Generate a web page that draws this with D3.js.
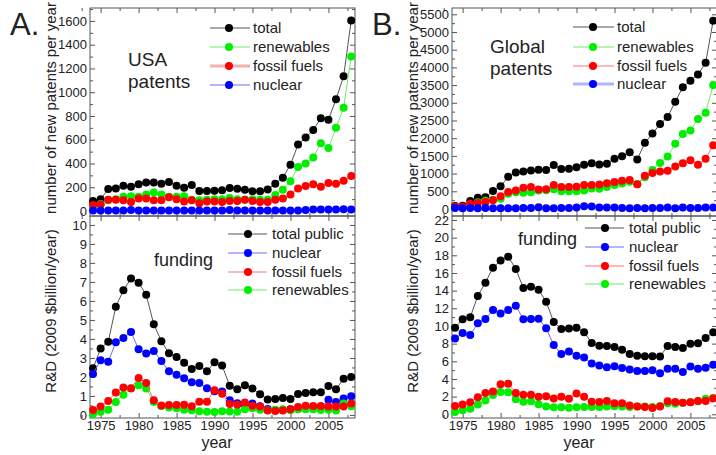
<!DOCTYPE html>
<html>
<head>
<meta charset="utf-8">
<script src="https://cdn.jsdelivr.net/npm/d3@7"></script>
<style>
  body { margin: 0; background: #fff; }
  text { font-family: "Liberation Sans", Arial, sans-serif; }
</style>
</head>
<body>
<svg id="chart" width="716" height="455"></svg>
<script>
const years = [1974, 1975, 1976, 1977, 1978, 1979, 1980, 1981, 1982, 1983, 1984, 1985,
  1986, 1987, 1988, 1989, 1990, 1991, 1992, 1993, 1994, 1995, 1996, 1997, 1998, 1999,
  2000, 2001, 2002, 2003, 2004, 2005, 2006, 2007, 2008];
const yearTicks = [1975, 1980, 1985, 1990, 1995, 2000, 2005];

// A. USA patents per year
const usaPatTotal = [84, 100, 185, 190, 213, 205, 225, 241, 241, 230, 244, 213, 196, 219, 168, 168, 171, 174, 194, 188, 180, 166, 166, 182, 230, 281, 390, 559, 618, 682, 780, 769, 940, 1134, 1603];
const usaPatRenew = [40, 60, 90, 100, 120, 125, 120, 140, 155, 140, 120, 120, 125, 95, 90, 95, 100, 100, 110, 100, 95, 100, 95, 95, 135, 180, 250, 370, 400, 450, 570, 530, 700, 870, 1300];
const usaPatFossil = [50, 55, 95, 95, 90, 75, 105, 105, 90, 90, 115, 100, 80, 90, 65, 80, 80, 75, 85, 85, 95, 85, 75, 75, 95, 105, 140, 190, 210, 225, 205, 235, 230, 255, 295];
const usaPatNuclear = [5, 5, 5, 5, 5, 8, 5, 5, 5, 5, 5, 5, 5, 5, 5, 5, 5, 5, 8, 5, 5, 5, 5, 5, 5, 5, 5, 5, 8, 12, 12, 12, 12, 14, 12];

// A. USA R&D funding (2009 $billion/year)
const usaFundTotal = [2.46, 3.5, 3.85, 5.7, 6.56, 7.18, 6.96, 6.32, 4.77, 3.88, 3.25, 3.05, 2.75, 2.42, 2.58, 2.3, 2.77, 2.6, 1.54, 1.35, 1.56, 1.39, 1.09, 0.81, 0.84, 0.89, 0.84, 1.1, 1.16, 1.19, 1.19, 1.53, 1.35, 1.91, 2.0];
const usaFundNuclear = [2.16, 2.88, 2.8, 3.82, 4.05, 4.37, 3.46, 3.23, 3.37, 2.84, 2.3, 2.12, 1.93, 1.72, 1.68, 1.4, 1.25, 1.23, 0.77, 0.61, 0.54, 0.6, 0.46, 0.32, 0.26, 0.26, 0.3, 0.33, 0.35, 0.39, 0.4, 0.8, 0.68, 0.86, 0.98];
const usaFundFossil = [0.26, 0.44, 0.74, 1.18, 1.44, 1.4, 1.95, 1.68, 0.77, 0.5, 0.53, 0.53, 0.54, 0.46, 0.7, 0.7, 1.3, 1.12, 0.58, 0.54, 0.65, 0.49, 0.44, 0.23, 0.21, 0.23, 0.3, 0.42, 0.49, 0.47, 0.47, 0.44, 0.44, 0.44, 0.6];
const usaFundRenew = [0.05, 0.17, 0.28, 0.68, 1.07, 1.39, 1.56, 1.39, 0.68, 0.47, 0.39, 0.35, 0.28, 0.25, 0.19, 0.17, 0.16, 0.19, 0.18, 0.17, 0.3, 0.35, 0.28, 0.25, 0.28, 0.3, 0.25, 0.3, 0.3, 0.3, 0.26, 0.28, 0.23, 0.6, 0.46];

// B. Global patents per year
const globalPatTotal = [85, 95, 225, 320, 330, 510, 640, 910, 1030, 1060, 1090, 1110, 1100, 1240, 1130, 1140, 1180, 1250, 1290, 1260, 1280, 1420, 1490, 1600, 1400, 1870, 2130, 2400, 2600, 3030, 3440, 3620, 3800, 4130, 5320];
const globalPatRenew = [40, 50, 100, 190, 230, 260, 290, 430, 470, 460, 470, 520, 530, 560, 500, 500, 500, 520, 580, 570, 620, 680, 720, 770, 700, 900, 1100, 1300, 1480, 1840, 2120, 2220, 2540, 2720, 3500];
const globalPatFossil = [70, 60, 150, 170, 200, 250, 360, 480, 520, 600, 620, 550, 560, 680, 620, 620, 630, 680, 680, 690, 730, 760, 800, 820, 700, 940, 1020, 1060, 1080, 1200, 1290, 1380, 1250, 1420, 1800];
const globalPatNuclear = [30, 20, 30, 20, 30, 20, 20, 20, 20, 30, 30, 50, 20, 20, 30, 30, 40, 80, 70, 40, 40, 40, 30, 20, 30, 20, 30, 30, 40, 20, 40, 30, 30, 40, 40];

// B. Global R&D funding (2009 $billion/year)
const globalFundTotal = [9.8, 10.75, 11.0, 13.4, 14.9, 16.6, 17.4, 17.85, 16.45, 14.3, 14.45, 14.1, 12.75, 10.45, 9.66, 9.7, 9.8, 9.3, 8.07, 7.77, 7.74, 7.62, 7.32, 6.83, 6.64, 6.57, 6.57, 6.53, 7.74, 7.62, 7.5, 8.0, 8.04, 8.64, 9.28];
const globalFundNuclear = [8.57, 9.2, 8.98, 10.3, 10.8, 11.8, 11.4, 11.8, 12.3, 10.75, 10.8, 10.83, 9.74, 7.85, 6.83, 7.1, 6.64, 6.42, 5.74, 5.51, 5.32, 5.43, 5.25, 5.06, 4.9, 4.9, 4.98, 4.64, 5.17, 5.17, 4.8, 5.4, 5.17, 5.28, 5.6];
const globalFundFossil = [0.94, 1.1, 1.36, 1.92, 2.4, 2.57, 3.4, 3.47, 2.4, 2.2, 2.2, 2.0, 2.04, 1.8, 2.0, 1.77, 2.34, 2.0, 1.43, 1.4, 1.5, 1.25, 1.25, 1.0, 0.87, 0.83, 0.72, 0.87, 1.47, 1.4, 1.32, 1.36, 1.5, 1.5, 1.8];
const globalFundRenew = [0.26, 0.45, 0.64, 1.1, 1.55, 2.19, 2.53, 2.5, 1.7, 1.43, 1.47, 1.13, 0.87, 0.8, 0.8, 0.75, 0.8, 0.83, 0.83, 0.83, 0.87, 0.9, 0.87, 0.83, 0.87, 0.87, 0.83, 0.94, 1.25, 1.2, 1.32, 1.36, 1.47, 1.77, 1.85];

const colors = {
  total: { dot: "#000000", line: "#555555" },
  renew: { dot: "#00ee00", line: "#66ee66" },
  fossil: { dot: "#ff0000", line: "#ff7070" },
  nuclear: { dot: "#0000ff", line: "#6a6aff" },
};

const svg = d3.select("#chart");
svg.append("rect").attr("width", 716).attr("height", 455).attr("fill", "#fff");

const frameColor = "#555";
const topY = 8, midY = 216, botY = 418;
const plotW = 265;

// draws one boxed sub-panel with inward ticks on all four sides
function drawPanel(x, y, yTicks, yMinor, showXLabels) {
  const [x0, x1] = x.range();
  const [yb, yt] = y.range();

  const minorYears = d3.range(1972.5, 2010, 2.5).filter((v) => v % 5 !== 0);

  const addAxis = (axis, tx, ty, labels) => {
    const g = svg.append("g")
      .attr("transform", `translate(${tx},${ty})`)
      .call(axis);
    g.attr("color", frameColor)
      .attr("font-size", 13)
      .attr("font-family", '"Liberation Sans", Arial, sans-serif');
    g.select(".domain").remove();
    g.selectAll("text").attr("fill", "#222");
    if (!labels) g.selectAll("text").remove();
    return g;
  };

  // x axes (bottom and top)
  addAxis(d3.axisBottom(x).tickValues(yearTicks).tickSize(-5).tickPadding(3).tickFormat(d3.format("d")), 0, yb, showXLabels);
  addAxis(d3.axisBottom(x).tickValues(minorYears).tickSize(-3).tickFormat(""), 0, yb, false);
  addAxis(d3.axisTop(x).tickValues(yearTicks).tickSize(-5), 0, yt, false);
  addAxis(d3.axisTop(x).tickValues(minorYears).tickSize(-3), 0, yt, false);

  // y axes (left and right)
  addAxis(d3.axisLeft(y).tickValues(yTicks).tickSize(-5).tickPadding(3).tickFormat(d3.format("d")), x0, 0, true);
  addAxis(d3.axisLeft(y).tickValues(yMinor).tickSize(-3).tickFormat(""), x0, 0, false);
  addAxis(d3.axisRight(y).tickValues(yTicks).tickSize(-5), x1, 0, false);
  addAxis(d3.axisRight(y).tickValues(yMinor).tickSize(-3), x1, 0, false);

  svg.append("rect")
    .attr("x", x0).attr("y", yt)
    .attr("width", x1 - x0).attr("height", yb - yt)
    .attr("fill", "none")
    .attr("stroke", frameColor)
    .attr("stroke-width", 1);
}

function drawSeries(x, y, values, c) {
  const pts = years.map((yr, i) => ({ yr, v: values[i] }));
  const line = d3.line().x((d) => x(d.yr)).y((d) => y(d.v));
  svg.append("path")
    .datum(pts)
    .attr("d", line)
    .attr("fill", "none")
    .attr("stroke", c.line)
    .attr("stroke-width", 1);
  svg.append("g")
    .selectAll("circle")
    .data(pts)
    .enter()
    .append("circle")
    .attr("cx", (d) => x(d.yr))
    .attr("cy", (d) => y(d.v))
    .attr("r", 4)
    .attr("fill", c.dot);
}

function drawLegend(items, lx1, lx2, mx, tx, rows) {
  items.forEach((it, i) => {
    const yy = rows[i];
    svg.append("line")
      .attr("x1", lx1).attr("x2", lx2).attr("y1", yy).attr("y2", yy)
      .attr("stroke", it.thick ? it.thick : it.c.line)
      .attr("stroke-width", it.thick ? 3 : 1);
    svg.append("circle").attr("cx", mx).attr("cy", yy).attr("r", 4).attr("fill", it.c.dot);
    svg.append("text")
      .attr("x", tx).attr("y", yy).attr("dy", "0.35em")
      .attr("font-size", 15).attr("fill", "#222")
      .text(it.label);
  });
}

function addText(str, x, y, size, anchor) {
  svg.append("text")
    .attr("x", x).attr("y", y)
    .attr("font-size", size)
    .attr("fill", "#222")
    .attr("text-anchor", anchor || "start")
    .text(str);
}

function drawColumn(opt) {
  const x = d3.scaleLinear().domain([1973.6, 2008.5]).range([opt.left, opt.left + plotW]);
  const yTop = d3.scaleLinear().domain(opt.patDomain).range([midY, topY]);
  const yBot = d3.scaleLinear().domain(opt.fundDomain).range([botY, midY]);

  drawPanel(x, yTop, opt.patTicks, opt.patMinor, false);
  drawPanel(x, yBot, opt.fundTicks, opt.fundMinor, true);

  // patents
  drawSeries(x, yTop, opt.pat.total, colors.total);
  drawSeries(x, yTop, opt.pat.renew, colors.renew);
  drawSeries(x, yTop, opt.pat.fossil, colors.fossil);
  drawSeries(x, yTop, opt.pat.nuclear, colors.nuclear);

  // funding
  drawSeries(x, yBot, opt.fund.total, colors.total);
  drawSeries(x, yBot, opt.fund.nuclear, colors.nuclear);
  drawSeries(x, yBot, opt.fund.renew, colors.renew);
  drawSeries(x, yBot, opt.fund.fossil, colors.fossil);

  drawLegend([
    { label: "total", c: colors.total },
    { label: "renewables", c: colors.renew },
    { label: "fossil fuels", c: colors.fossil, thick: opt.thickPat === "fossil" ? "#f5b0b0" : null },
    { label: "nuclear", c: colors.nuclear, thick: opt.thickPat === "nuclear" ? "#b0b4ff" : null },
  ], opt.left + opt.lgTop[0], opt.left + opt.lgTop[1], opt.left + opt.lgTop[2], opt.left + opt.lgTop[3], opt.lgTopRows);

  drawLegend([
    { label: "total public", c: colors.total },
    { label: "nuclear", c: colors.nuclear },
    { label: "fossil fuels", c: colors.fossil },
    { label: "renewables", c: colors.renew },
  ], opt.left + opt.lgBot[0], opt.left + opt.lgBot[1], opt.left + opt.lgBot[2], opt.left + opt.lgBot[3], opt.lgBotRows);

  // titles inside panels
  addText(opt.region, opt.left + opt.titleX, opt.regionY, 19);
  addText("patents", opt.left + opt.titleX, opt.regionY + 22, 19);
  addText("funding", opt.left + opt.fundX, opt.fundY, 18);

  // axis titles
  svg.append("text")
    .attr("transform", `translate(${opt.left - 34},108) rotate(-90)`)
    .attr("text-anchor", "middle").attr("font-size", 15).attr("fill", "#222")
    .text("number of new patents per year");
  svg.append("text")
    .attr("transform", `translate(${opt.left - 34},311) rotate(-90)`)
    .attr("text-anchor", "middle").attr("font-size", 15).attr("fill", "#222")
    .text("R&D (2009 $billion/year)");
  addText("year", opt.left + 127, 448, 16, "middle");

  addText(opt.letter, opt.left - 80, 35, 31);
}

drawColumn({
  left: 90,
  letter: "A.",
  region: "USA",
  patDomain: [-42, 1709],
  fundDomain: [-0.16, 10.47],
  patTicks: d3.range(0, 1601, 200),
  patMinor: d3.range(100, 1701, 200),
  fundTicks: d3.range(0, 11, 1),
  fundMinor: d3.range(0.5, 10.5, 1),
  pat: { total: usaPatTotal, renew: usaPatRenew, fossil: usaPatFossil, nuclear: usaPatNuclear },
  fund: { total: usaFundTotal, nuclear: usaFundNuclear, fossil: usaFundFossil, renew: usaFundRenew },
  thickPat: "fossil",
  lgTop: [120, 160, 139, 163],
  lgTopRows: [28, 47, 66, 85],
  lgBot: [138, 177, 158, 182],
  lgBotRows: [234, 253, 272, 290],
  titleX: 38,
  regionY: 66,
  fundX: 64,
  fundY: 266,
});

drawColumn({
  left: 452,
  letter: "B.",
  region: "Global",
  patDomain: [-198, 5678],
  fundDomain: [-0.42, 22.45],
  patTicks: d3.range(0, 5501, 500),
  patMinor: d3.range(250, 5700, 500),
  fundTicks: d3.range(0, 23, 2),
  fundMinor: d3.range(1, 23, 2),
  pat: { total: globalPatTotal, renew: globalPatRenew, fossil: globalPatFossil, nuclear: globalPatNuclear },
  fund: { total: globalFundTotal, nuclear: globalFundNuclear, fossil: globalFundFossil, renew: globalFundRenew },
  thickPat: "nuclear",
  lgTop: [121, 162, 141, 165],
  lgTopRows: [27, 47, 66, 84],
  lgBot: [133, 172, 153, 177],
  lgBotRows: [228, 247, 266, 284],
  titleX: 38,
  regionY: 53,
  fundX: 66,
  fundY: 245,
});
</script>
</body>
</html>
